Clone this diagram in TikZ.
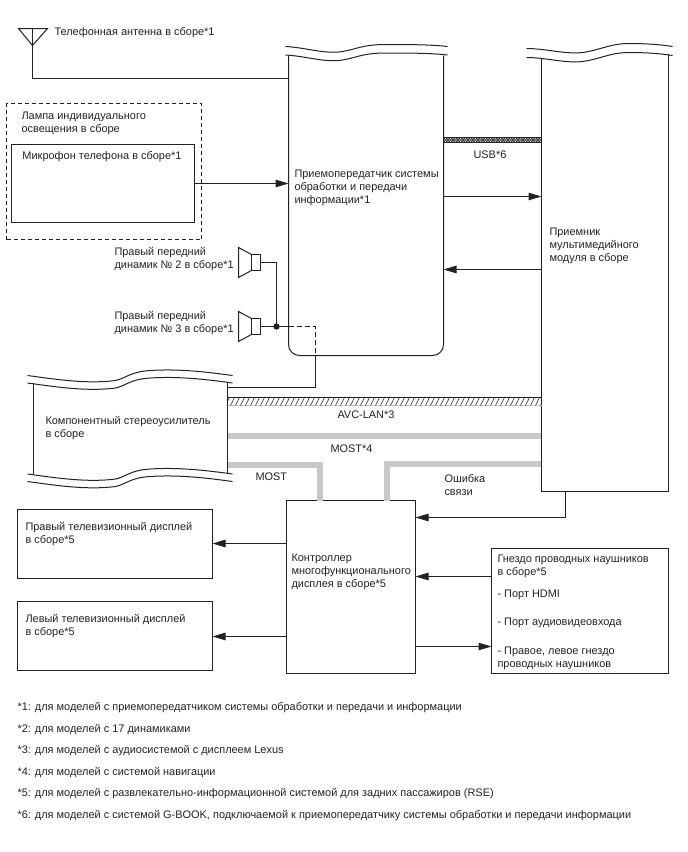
\documentclass[tikz,border=0pt]{standalone}
\usepackage{fontspec}
\setmainfont{Liberation Sans}
\usetikzlibrary{arrows.meta}
\definecolor{ink}{HTML}{222222}
\definecolor{busgrey}{HTML}{C8C8C8}
\tikzset{
  wire/.style={line width=1pt,draw=ink},
  flow/.style={wire,-{Triangle[length=13pt,width=7.5pt]}},
  frame/.style={wire,draw,rectangle,inner sep=0pt,outer sep=0pt,anchor=north west},
  body/.style={rectangle,inner sep=0pt,outer sep=0pt,anchor=north west},
  label/.style={inner sep=0pt,outer sep=0pt,anchor=west,align=left,text=ink,yshift=-1pt,
    font=\fontsize{10.95}{13}\selectfont},
  bus/.style={line width=6pt,draw=busgrey},
  hatchline/.style={line width=0.6pt,draw=ink},
}
\begin{document}
\begin{tikzpicture}[x=1pt,y=-1pt]
\useasboundingbox (0,0) rectangle (688,852);
% Half-unit offset keeps one-unit rules sharp
\begin{scope}[xshift=0.5pt,yshift=-0.5pt]

% Module bodies
\node[body,minimum width=155pt,minimum height=300pt] (tr) at (288,55) {};
\node[body,minimum width=127pt,minimum height=433pt] (rx) at (541,58) {};
\node[body,minimum width=194pt,minimum height=91pt] (amp) at (33,382) {};

% Buses between the modules (drawn first so that frames lie above them)
\draw[bus] (amp.east |- 0,435) -- (rx.west |- 0,435);
\node[frame,minimum width=129pt,minimum height=173pt] (ctl) at (286,500) {};
\draw[bus] (amp.east |- 0,464) -- (319.5,464) -- (319.5,500);
\draw[bus] (rx.west |- 0,463.5) -- (386,463.5) -- (386,500);

% Transceiver outline
\draw[wire,rounded corners=11pt] (tr.north west) -- (tr.south west) -- (tr.south east) -- (tr.north east);
\foreach \d in {0,8.5}{
  \draw[wire,yshift=-\d pt] (285,46) .. controls (305,47) and (325,54) .. (342,51)
    .. controls (355,49) and (362,44) .. (385,44) .. controls (405,44) and (430,44) .. (447,46);
}

% Receiver outline
\draw[wire] (rx.north west) -- (rx.south west) -- (rx.south east) -- (668,53);
\foreach \d in {0,9}{
  \draw[wire,yshift=-\d pt] (526,48) .. controls (545,48) and (565,54) .. (582,52)
    .. controls (598,50) and (610,43) .. (628,43) .. controls (645,43) and (660,44) .. (672,46);
}

% Amplifier outline
\draw[wire] (amp.north west) -- (amp.south west);
\draw[wire] (amp.north east) -- (amp.south east);
\foreach \base in {0,98.5}{
  \foreach \d in {0,7.5}{
    \draw[wire,yshift=-\base pt,yshift=-\d pt] (27,375) .. controls (50,378) and (85,384) .. (115,380)
      .. controls (125,378) and (130,371) .. (150,370) .. controls (180,368) and (210,372) .. (232,375);
  }
}

% Antenna and its feed
\coordinate (ant) at (32,45);
\draw[wire] (18,28) -- (47,28) -- (ant) -- cycle;
\draw[wire] (32,28) -- (ant) -- (ant |- 0,78) -- (tr.west |- 0,78);

% Lamp assembly and microphone
\node[frame,line width=1.2pt,dash pattern=on 4pt off 3pt,minimum width=195pt,minimum height=136pt] (lamp) at (6,103) {};
\node[frame,minimum width=183pt,minimum height=78pt] (mic) at (11,144) {};
\draw[flow] (mic.east) -- (mic.east -| tr.west);

% Speakers
\node[frame,minimum width=9pt,minimum height=16pt] (spkA) at (251,254) {};
\node[frame,minimum width=9pt,minimum height=16pt] (spkB) at (251,318) {};
\draw[wire] (spkA.north west) -- (238,247) -- (238,277) -- (spkA.south west);
\draw[wire] (spkB.north west) -- (238,311) -- (238,341) -- (spkB.south west);
\coordinate (jct) at (276,326);
\coordinate (dashEnd) at (315,355);
\draw[wire] (spkA.east) -- (spkA.east -| jct) -- (jct);
\draw[wire] (spkB.east) -- (jct) -- (jct -| tr.west);
\draw[wire,dash pattern=on 5pt off 3pt] (jct -| tr.west) -- (jct -| dashEnd) -- (dashEnd);
\draw[wire] (dashEnd) -- (dashEnd |- 0,387) -- (amp.east |- 0,387);
\fill[ink] (jct) circle (3.2pt);

% Links between transceiver and receiver
\draw[flow] (tr.east |- 0,196) -- (rx.west |- 0,196);
\draw[flow] (rx.west |- 0,269) -- (tr.east |- 0,269);

% USB band
\begin{scope}
  \clip (443,137) rectangle (541,142);
  \foreach \x in {440,442.5,...,545}{
    \draw[line width=0.55pt,draw=ink] (\x,137) -- (\x+5,142);
    \draw[line width=0.55pt,draw=ink] (\x+5,137) -- (\x,142);
  }
\end{scope}
\draw[line width=0.5pt,draw=ink] (tr.east |- 0,137) -- (rx.west |- 0,137);
\draw[line width=0.5pt,draw=ink] (tr.east |- 0,142) -- (rx.west |- 0,142);

% AVC-LAN band
\draw[wire] (amp.east |- 0,397) -- (rx.west |- 0,397);
\draw[line width=1.4pt,draw=busgrey] (amp.east |- 0,405) -- (rx.west |- 0,405);
\begin{scope}
  \clip (227,397) rectangle (541,404.5);
  \foreach \x in {225,230,...,545}{
    \draw[hatchline] (\x,405) -- (\x+4,397);
  }
\end{scope}

% Receiver error line
\coordinate (errDrop) at (565,517);
\draw[wire] (errDrop |- rx.south) -- (errDrop);
\draw[flow] (errDrop) -- (ctl.east |- errDrop);

% Displays and headphone jack
\node[frame,minimum width=195pt,minimum height=69pt] (tvR) at (17,509) {};
\node[frame,minimum width=195pt,minimum height=69pt] (tvL) at (17,601) {};
\node[frame,minimum width=177pt,minimum height=125pt] (jack) at (491,548) {};
\draw[flow] (ctl.west |- 0,543) -- (tvR.east |- 0,543);
\draw[flow] (ctl.west |- 0,636) -- (tvL.east |- 0,636);
\draw[flow] (jack.west |- 0,576) -- (ctl.east |- 0,576);
\draw[flow] (ctl.east |- 0,646) -- (jack.west |- 0,646);

% Labels
\node[label] (tAnt) at (54,31) {Телефонная антенна в сборе*1};
\node[label] (tLamp) at (21,121.5) {Лампа индивидуального\\освещения в сборе};
\node[label] (tMic) at (22,155) {Микрофон телефона в сборе*1};
\node[label] (tTr) at (294,186) {Приемопередатчик системы\\обработки и передачи\\информации*1};
\node[label] (tSpkA) at (114,257.5) {Правый передний\\динамик № 2 в сборе*1};
\node[label] (tSpkB) at (114,321.5) {Правый передний\\динамик № 3 в сборе*1};
\node[label] (tAmp) at (45,426.5) {Компонентный стереоусилитель\\в сборе};
\node[label] (tUsb) at (473,153) {USB*6};
\node[label] (tRx) at (549,244.5) {Приемник\\мультимедийного\\модуля в сборе};
\node[label] (tAvc) at (337,413) {AVC-LAN*3};
\node[label] (tMost4) at (330,447) {MOST*4};
\node[label] (tMost) at (255,475) {MOST};
\node[label] (tErr) at (444,484) {Ошибка\\связи};
\node[label] (tTvR) at (25,532.5) {Правый телевизионный дисплей\\в сборе*5};
\node[label] (tTvL) at (25,624.5) {Левый телевизионный дисплей\\в сборе*5};
\node[label] (tCtl) at (291,570) {Контроллер\\многофункционального\\дисплея в сборе*5};
\node[label] (tJack) at (497,564.5) {Гнездо проводных наушников\\в сборе*5};
\node[label] (tHdmi) at (497,593) {- Порт HDMI};
\node[label] (tAv) at (497,621) {- Порт аудиовидеовхода};
\node[label] (tHp) at (497,657) {- Правое, левое гнездо\\проводных наушников};

% Footnotes
\node[label] (n1) at (17,706) {*1: для моделей с приемопередатчиком системы обработки и передачи и информации};
\node[label] (n2) at (17,728) {*2: для моделей с 17 динамиками};
\node[label] (n3) at (17,749) {*3: для моделей с аудиосистемой с дисплеем Lexus};
\node[label] (n4) at (17,771) {*4: для моделей с системой навигации};
\node[label] (n5) at (17,792) {*5: для моделей с развлекательно-информационной системой для задних пассажиров (RSE)};
\node[label] (n6) at (17,814) {*6: для моделей с системой G-BOOK, подключаемой к приемопередатчику системы обработки и передачи информации};
\end{scope}
\end{tikzpicture}
\end{document}
